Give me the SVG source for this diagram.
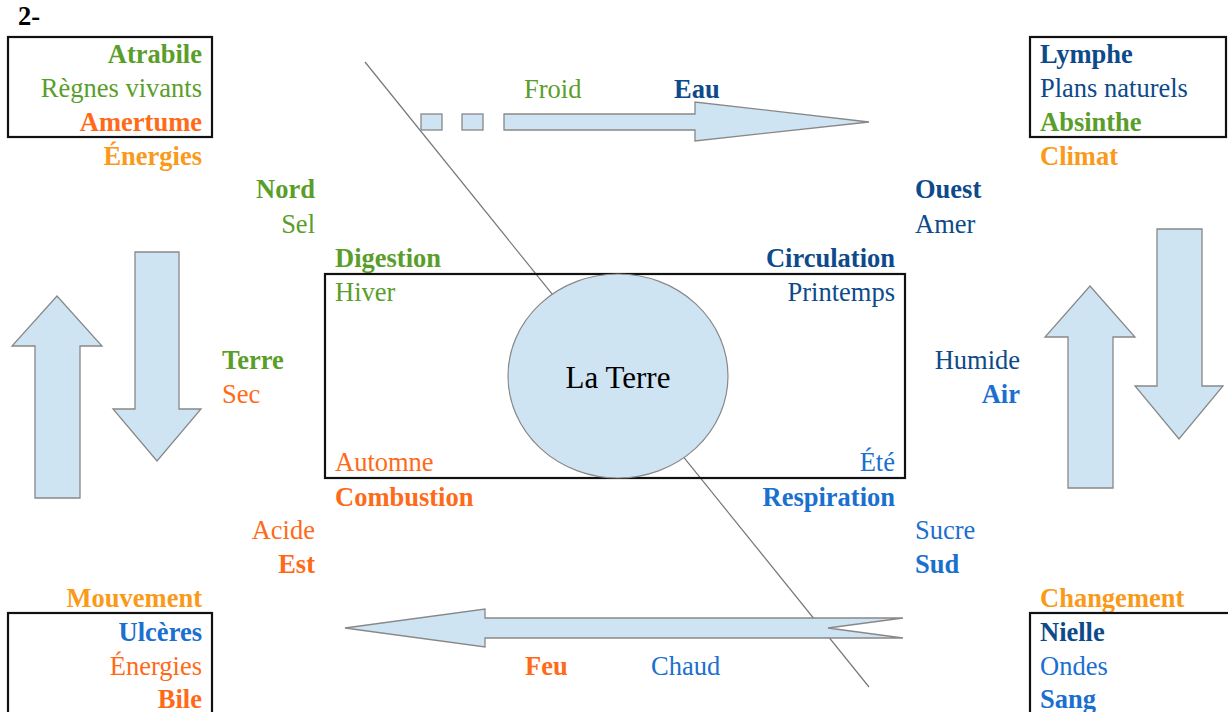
<svg xmlns="http://www.w3.org/2000/svg" width="1228" height="712" viewBox="0 0 1228 712">
<style>
text{font-family:"Liberation Serif","Times New Roman",serif;font-size:26.5px}
.b{font-weight:bold}
.r{text-anchor:end}
.g{fill:#5a9e2a}
.db{fill:#0d4a8b}
.or{fill:#ff6a18}
.og{fill:#fa9a1a}
.bb{fill:#1a6fd0}
.box{fill:none;stroke:#111;stroke-width:2.2}
.arr{fill:#cfe4f3;stroke:#888;stroke-width:1.3}
</style>
<rect width="1228" height="712" fill="#fff"/>
<text x="18" y="25" class="b" fill="#000">2-</text>

<g id="connectors">
<line x1="365" y1="62" x2="869" y2="687" stroke="#777" stroke-width="1.2"/>
<rect x="421" y="114" width="21" height="16" class="arr"/>
<rect x="462" y="114" width="21" height="16" class="arr"/>
<polygon points="504,114 695,114 695,102 869,122 695,141 695,130 504,130" class="arr"/>
<polygon points="345,628 485,609 485,618 903,618 828,628 903,638 485,638 485,647" class="arr"/>
<polygon points="35,498 35,346 12,346 57,296 102,346 80,346 80,498" class="arr"/>
<polygon points="135,252 179,252 179,409 201,409 157,461 113,409 135,409" class="arr"/>
<polygon points="1068,488 1068,337 1045,337 1090,286 1135,337 1113,337 1113,488" class="arr"/>
<polygon points="1157,229 1202,229 1202,386 1223,386 1179,439 1135,386 1157,386" class="arr"/>
</g>

<g id="box-tl">
<rect x="8" y="37" width="204" height="100" class="box"/>
<text x="202" y="63" class="b r g">Atrabile</text>
<text x="202" y="97" class="r g">Règnes vivants</text>
<text x="202" y="131" class="b r or">Amertume</text>
<text x="202" y="165" class="b r og">Énergies</text>
</g>

<g id="box-tr">
<rect x="1030" y="37" width="196" height="100" class="box"/>
<text x="1040" y="63" class="b db">Lymphe</text>
<text x="1040" y="97" class="db">Plans naturels</text>
<text x="1040" y="131" class="b g">Absinthe</text>
<text x="1040" y="165" class="b og">Climat</text>
</g>

<g id="box-bl">
<text x="202" y="607" class="b r og">Mouvement</text>
<rect x="8" y="613" width="204" height="110" class="box"/>
<text x="202" y="641" class="b r bb">Ulcères</text>
<text x="202" y="675" class="r or">Énergies</text>
<text x="202" y="708" class="b r or">Bile</text>
</g>

<g id="box-br">
<text x="1040" y="607" class="b og">Changement</text>
<rect x="1030" y="613" width="210" height="110" class="box"/>
<text x="1040" y="641" class="b db">Nielle</text>
<text x="1040" y="675" class="bb">Ondes</text>
<text x="1040" y="708" class="b bb">Sang</text>
</g>

<g id="labels-top">
<text x="524" y="98" class="g">Froid</text>
<text x="674" y="98" class="b db">Eau</text>
</g>
<g id="labels-bottom">
<text x="525" y="675" class="b or">Feu</text>
<text x="651" y="675" class="bb">Chaud</text>
</g>

<g id="nord">
<text x="315" y="198" class="b r g">Nord</text>
<text x="315" y="233" class="r g">Sel</text>
</g>
<g id="ouest">
<text x="915" y="198" class="b db">Ouest</text>
<text x="915" y="233" class="db">Amer</text>
</g>
<g id="terre-label">
<text x="222" y="369" class="b g">Terre</text>
<text x="222" y="403" class="or">Sec</text>
</g>
<g id="air-label">
<text x="1020" y="369" class="r db">Humide</text>
<text x="1020" y="403" class="b r bb">Air</text>
</g>
<g id="est">
<text x="315" y="539" class="r or">Acide</text>
<text x="315" y="573" class="b r or">Est</text>
</g>
<g id="sud">
<text x="915" y="539" class="bb">Sucre</text>
<text x="915" y="573" class="b bb">Sud</text>
</g>

<g id="center">
<text x="335" y="267" class="b g">Digestion</text>
<text x="895" y="267" class="b r db">Circulation</text>
<rect x="325" y="274" width="580" height="204" class="box"/>
<text x="335" y="301" class="g">Hiver</text>
<text x="895" y="301" class="r db">Printemps</text>
<text x="335" y="471" class="or">Automne</text>
<text x="895" y="471" class="r bb">Été</text>
<text x="335" y="506" class="b or">Combustion</text>
<text x="895" y="506" class="b r bb">Respiration</text>
</g>

<g id="la-terre">
<ellipse cx="618" cy="376" rx="110" ry="102" fill="#cfe4f3" stroke="#888" stroke-width="1.2"/>
<text x="618" y="388" text-anchor="middle" fill="#000" style="font-size:31px">La Terre</text>
</g>
</svg>
